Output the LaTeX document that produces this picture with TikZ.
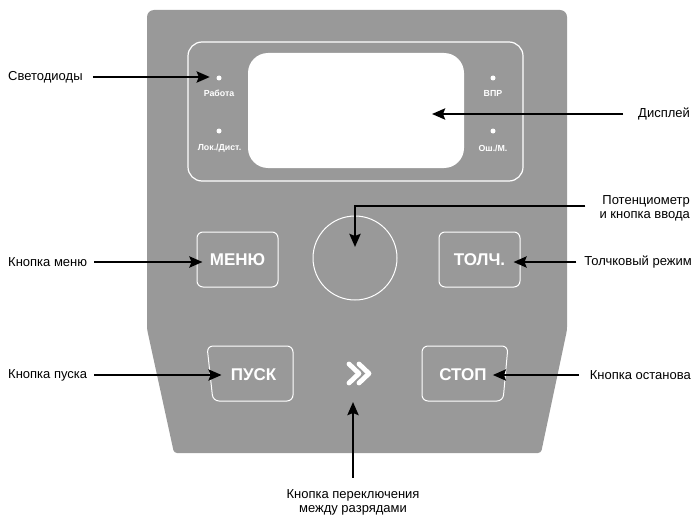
\documentclass[tikz,border=0pt]{standalone}
\usepackage{fontspec}
\setmainfont{Liberation Sans}
\usetikzlibrary{arrows.meta,calc}
\definecolor{panelgray}{RGB}{153,153,153}
\begin{document}
\begin{tikzpicture}[x=1pt,y=-1pt,
 lbl/.style={font=\fontsize{13}{14}\selectfont, inner sep=0pt},
 arr/.style={line width=2.6pt, -{Stealth[length=13pt,width=11pt,inset=2pt]}},
 ledlbl/.style={font=\fontsize{8.8}{10}\selectfont\bfseries, text=white, inner sep=0pt},
 led/.style={circle, fill=white, inner sep=0pt, minimum size=5pt},
 btntxt/.style={font=\fontsize{17}{20}\selectfont\bfseries, text=white, inner sep=0pt},
 btn/.style={draw=white, line width=1pt, rounded corners=6pt},
 chev/.style={draw=white, line width=4.8pt, line cap=round, line join=round},
]
\useasboundingbox (0,0) rectangle (695,516);
% panel
\fill[panelgray] (147,200) [rounded corners=7pt] -- (147,10) -- (567,10) -- (567,200)
  [rounded corners=3pt] -- (567,330) -- (541,453) -- (174,453) -- (147,329) -- cycle;
% display frame and display
\node[draw=white, line width=1.2pt, rounded corners=14pt, minimum width=335pt, minimum height=139pt, inner sep=0pt] (frame) at (355.5,111.5) {};
\node[fill=white, rounded corners=20pt, minimum width=216pt, minimum height=115pt, inner sep=0pt] (display) at (356,110.5) {};
% LEDs
\node[led] (ledA) at (219,78) {};
\node[led] (ledB) at (219,131) {};
\node[led] (ledC) at (493,78) {};
\node[led] (ledD) at (493,131) {};
\node[ledlbl] (tA) at (219,93) {Работа};
\node[ledlbl] (tB) at (219.5,148) {Лок./Дист.};
\node[ledlbl] (tC) at (493,93) {ВПР};
\node[ledlbl] (tD) at (493,148) {Ош./М.};
% knob
\node[draw=white, circle, line width=1pt, minimum size=84pt, inner sep=0pt] (knob) at (355,258) {};
% buttons
\node[btn, btntxt, minimum width=81pt, minimum height=55pt] (menu) at (237.5,259.5) {МЕНЮ};
\node[btn, btntxt, minimum width=81pt, minimum height=55pt] (tolch) at (479.5,259.5) {ТОЛЧ.};
\draw[btn] (207,346) -- (293,346) -- (293,401) -- (213,401) -- cycle;
\draw[btn] (422,346) -- (508,346) -- (503,401) -- (422,401) -- cycle;
\node[btntxt] (pusk) at (253.5,375) {ПУСК};
\node[btntxt] (stop) at (463,375) {СТОП};
% chevrons
\coordinate (chevc) at (353,373.5);
\draw[chev] (349,364) -- (359,373.5) -- (349,383);
\draw[chev] (359,364) -- (369,373.5) -- (359,383);
% labels
\node[lbl, anchor=west] (svet) at (8,77) {Светодиоды};
\node[lbl, anchor=west] (lmenu) at (8,262) {Кнопка меню};
\node[lbl, anchor=west] (lpusk) at (8,375) {Кнопка пуска};
\node[lbl, anchor=west] (ldisp) at (638,114) {Дисплей};
\node[lbl, anchor=east, align=right] (lpot) at (690,208) {Потенциометр\\и кнопка ввода};
\node[lbl, anchor=east] (ltolch) at (692,262) {Толчковый режим};
\node[lbl, anchor=east] (lstop) at (691,375) {Кнопка останова};
\node[lbl, align=center] (lswitch) at (353,502) {Кнопка переключения\\между разрядами};
% arrows
\draw[arr] ([xshift=10pt]svet.east) -- ($(svet.east -| ledA.west)+(-6.5,0)$);
\draw[arr] ([xshift=-15pt]ldisp.west) -- ($(ldisp.west -| display.center)+(76,0)$);
\draw[arr] ([xshift=-14pt,yshift=2pt]lpot.west) -| ([yshift=11pt]knob.center);
\draw[arr] ([xshift=7pt]lmenu.east) -- ($(lmenu.east -| menu.west)+(6,0)$);
\draw[arr] ([xshift=-8pt]ltolch.west) -- ($(ltolch.west -| tolch.east)+(-7,0)$);
\draw[arr] ([xshift=7pt]lpusk.east) -- ($(lpusk.east -| pusk.west)+(-9,0)$);
\draw[arr] ([xshift=-11pt]lstop.west) -- ($(lstop.west -| stop.east)+(6,0)$);
\draw[arr] ([yshift=11pt]lswitch.north) -- ($(lswitch.north |- chevc)+(0,28.5)$);
\end{tikzpicture}
\end{document}
